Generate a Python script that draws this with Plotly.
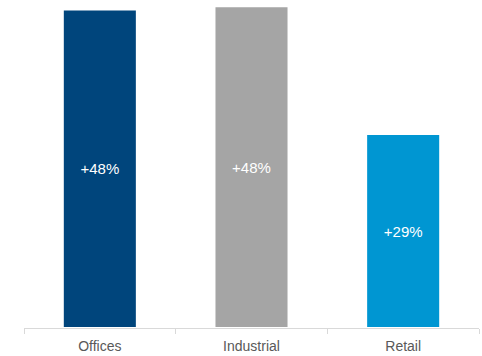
import plotly.graph_objects as go

categories = ["Offices", "Industrial", "Retail"]
values = [47.8, 48.3, 29.0]
labels = ["+48%", "+48%", "+29%"]
colors = ["#00457C", "#A5A5A5", "#0096D2"]

fig = go.Figure(go.Bar(
    x=categories, y=values, text=labels,
    marker=dict(color=colors, line=dict(width=0)),
    textposition="inside", insidetextanchor="middle",
    textfont=dict(color="white", size=15, family="Liberation Sans, Arial"),
    width=0.475, hoverinfo="skip",
))

fig.update_layout(
    width=482, height=356,
    margin=dict(l=24, r=3, t=5, b=28),
    paper_bgcolor="white", plot_bgcolor="white",
    showlegend=False,
    font=dict(family="Liberation Sans, Arial", size=14, color="#595959"),
)
fig.update_xaxes(
    showline=True, linecolor="#d9d9d9", linewidth=1,
    ticks="outside", tickson="boundaries", ticklen=5, tickcolor="#d9d9d9",
    showgrid=False, tickfont=dict(size=14, color="#595959"),
    ticklabelstandoff=5,
)
fig.update_yaxes(visible=False, range=[-0.15, 48.64], showgrid=False, zeroline=False)

fig.write_html("out.html")
